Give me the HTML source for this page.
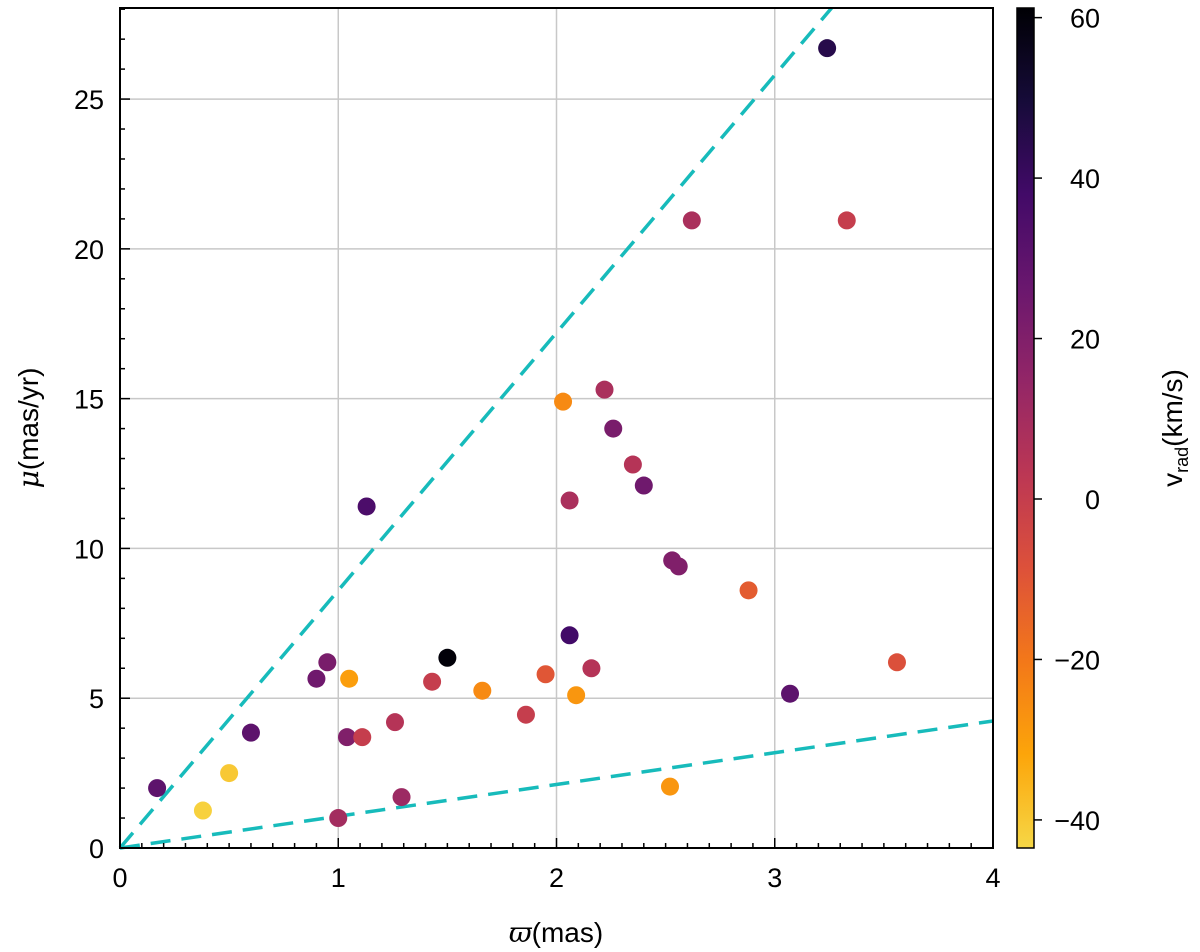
<!DOCTYPE html>
<html><head><meta charset="utf-8">
<style>
html,body{margin:0;padding:0;background:#fff;}
svg{display:block;font-family:"Liberation Sans","DejaVu Sans",sans-serif;}
</style></head>
<body>
<svg id="chart" width="1200" height="952" viewBox="0 0 1200 952" xmlns="http://www.w3.org/2000/svg">
<defs>
<linearGradient id="cbgrad" x1="0" y1="1" x2="0" y2="0">
<stop offset="0" stop-color="#f6d746"/>
<stop offset="0.111" stop-color="#fca50a"/>
<stop offset="0.222" stop-color="#f37819"/>
<stop offset="0.333" stop-color="#dd513a"/>
<stop offset="0.444" stop-color="#bc3754"/>
<stop offset="0.556" stop-color="#932667"/>
<stop offset="0.667" stop-color="#6a176e"/>
<stop offset="0.778" stop-color="#420a68"/>
<stop offset="0.889" stop-color="#160b39"/>
<stop offset="1" stop-color="#000004"/>
</linearGradient>
</defs>
<g id="grid"></g>
<g id="lines"></g>
<g id="points"></g>
<g id="axes"></g>
<rect x="1017" y="8" width="17" height="840" fill="url(#cbgrad)" stroke="#000" stroke-width="1.5"/>
<g id="cbticks"></g>
<text x="556" y="942" font-size="28" text-anchor="middle"><tspan font-family="DejaVu Serif, serif" font-style="italic">ϖ</tspan>(mas)</text>
<text transform="translate(38,428) rotate(-90)" font-size="28" text-anchor="middle"><tspan font-family="DejaVu Serif, serif" font-style="italic">μ</tspan>(mas/yr)</text>
<text transform="translate(1182,428) rotate(-90)" font-size="28" text-anchor="middle">v<tspan font-size="18" dy="6">rad</tspan><tspan dy="-6">(km/s)</tspan></text>
</svg>
<script>
const xs = [0.17,0.38,0.5,0.6,0.9,0.95,1.0,1.04,1.05,1.11,1.13,1.26,1.29,1.43,1.5,1.66,1.86,1.95,2.03,2.06,2.06,2.09,2.16,2.22,2.26,2.35,2.4,2.53,2.56,2.52,2.62,2.88,3.07,3.24,3.33,3.56];
const ys = [2.0,1.25,2.5,3.85,5.65,6.2,1.0,3.7,5.65,3.7,11.4,4.2,1.7,5.55,6.35,5.25,4.45,5.8,14.9,7.1,11.6,5.1,6.0,15.3,14.0,12.8,12.1,9.6,9.4,2.05,20.95,8.6,5.15,26.7,20.95,6.2];
const vrad = [30,-42,-40,30,25,22,10,20,-30,0,35,5,12,0,60,-25,0,-10,-25,38,8,-28,5,8,22,5,25,20,20,-28,8,-12,30,45,0,-8];
const xTicks = [0,1,2,3,4];
const yTicks = [0,5,10,15,20,25];
const cbTicks = [60,40,20,0,-20,-40];
const upperSlope = 8.6;
const lowerSlope = 1.06;

const X0=120,X1=993,Y0=848,Y1=8,XMAX=4,YMAX=28.04;
const CMIN=-43.5,CMAX=61.2;
const sx=v=>X0+(X1-X0)*v/XMAX;
const sy=v=>Y0-(Y0-Y1)*v/YMAX;
const cy=v=>848-(v-CMIN)/(CMAX-CMIN)*840;
const NS="http://www.w3.org/2000/svg";
function mk(tag,attrs,parent){const e=document.createElementNS(NS,tag);for(const k in attrs)e.setAttribute(k,attrs[k]);parent.appendChild(e);return e;}
const stops=[[0,[0,0,4]],[0.1,[22,11,57]],[0.2,[66,10,104]],[0.3,[106,23,110]],[0.4,[147,38,103]],[0.5,[188,55,84]],[0.6,[221,81,58]],[0.7,[243,120,25]],[0.8,[252,165,10]],[0.9,[246,215,70]]];
function inferno(t){t=Math.max(0,Math.min(0.9,t));for(let i=0;i<stops.length-1;i++){const[a,ca]=stops[i],[b,cb]=stops[i+1];if(t<=b){const f=(t-a)/(b-a);return 'rgb('+ca.map((c,j)=>Math.round(c+(cb[j]-c)*f)).join(',')+')';}}return 'rgb(246,215,70)';}
const colorOf=v=>inferno((CMAX-v)/(CMAX-CMIN)*0.9);

const grid=document.getElementById('grid');
xTicks.forEach(t=>{if(t>0&&t<XMAX){const l=mk('line',{x1:sx(t),x2:sx(t),y1:Y0,y2:Y1,stroke:'#c8c8c8','stroke-width':1.5},grid);

}});
yTicks.forEach(t=>{if(t>0){const l=mk('line',{x1:X0,x2:X1,y1:sy(t),y2:sy(t),stroke:'#c8c8c8','stroke-width':1.5},grid);

}});

const lines=document.getElementById('lines');
const xu=Math.min(XMAX,YMAX/upperSlope);
const lu=mk('line',{x1:sx(0),y1:sy(0),x2:sx(xu),y2:sy(xu*upperSlope),stroke:'#17bbbb','stroke-width':3.5,'stroke-dasharray':'20,11'},lines);


const ll=mk('line',{x1:sx(0),y1:sy(0),x2:sx(XMAX),y2:sy(XMAX*lowerSlope),stroke:'#17bbbb','stroke-width':3.5,'stroke-dasharray':'20,11'},lines);



const pts=document.getElementById('points');
xs.forEach((x,i)=>{const c=mk('circle',{cx:sx(x),cy:sy(ys[i]),r:9,fill:colorOf(vrad[i])},pts);

});

const ax=document.getElementById('axes');
mk('rect',{x:X0,y:Y1,width:X1-X0,height:Y0-Y1,fill:'none',stroke:'#000','stroke-width':2},ax);
for(let v=0;v<=XMAX+1e-9;v+=0.1){const major=Math.abs(v-Math.round(v))<1e-6;mk('line',{x1:sx(v),x2:sx(v),y1:Y0,y2:Y0-(major?10:5),stroke:'#000','stroke-width':1.5},ax);}
for(let v=0;v<=28;v+=1){const major=v%5===0;mk('line',{x1:X0,x2:X0+(major?10:5),y1:sy(v),y2:sy(v),stroke:'#000','stroke-width':1.5},ax);}
xTicks.forEach(t=>{const e=mk('text',{x:sx(t),y:887,'font-size':27,'text-anchor':'middle'},ax);e.textContent=t;

});
yTicks.forEach(t=>{const e=mk('text',{x:X0-16,y:sy(t)+10,'font-size':27,'text-anchor':'end'},ax);e.textContent=t;

});

const cbt=document.getElementById('cbticks');
cbTicks.forEach(t=>{const y=cy(t);mk('line',{x1:1034,x2:1042,y1:y,y2:y,stroke:'#000','stroke-width':1.5},cbt);
const e=mk('text',{x:1100,y:y+10,'font-size':27,'text-anchor':'end'},cbt);e.textContent=(t<0?'\u2212':'')+Math.abs(t);

});
</script>
</body></html>
